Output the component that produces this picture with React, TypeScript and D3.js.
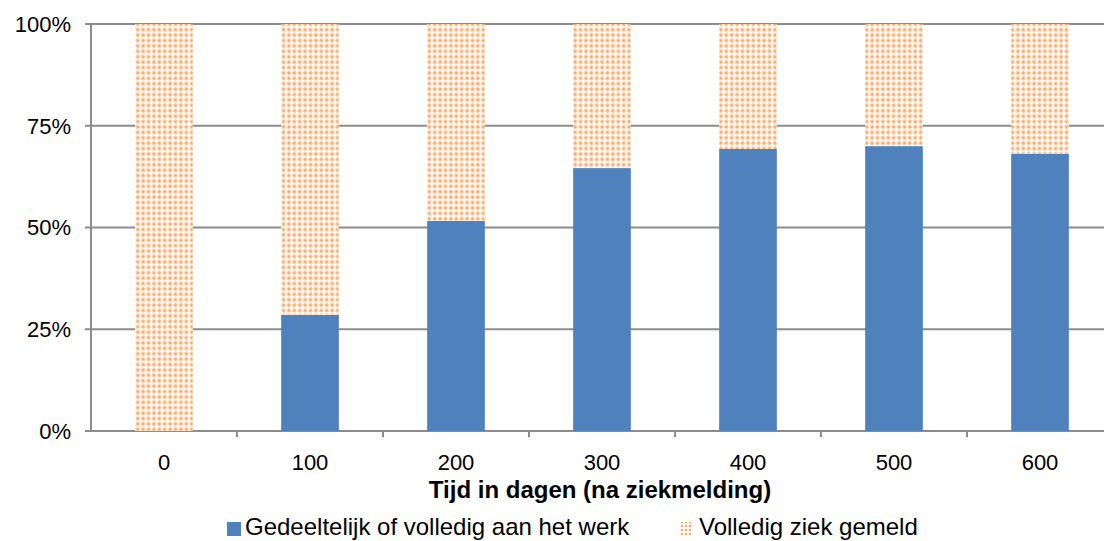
import React from "react";
import * as d3 from "d3";

// Days since reporting sick
const days = ["0", "100", "200", "300", "400", "500", "600"];
// Share (%) partly or fully back at work
const atWork = [0, 28.5, 51.6, 64.6, 69.3, 70.0, 68.1];
// Share (%) still fully on sick leave
const fullySick = atWork.map((v) => 100 - v);
const yTicks = [0, 25, 50, 75, 100];
const seriesNames = ["Gedeeltelijk of volledig aan het werk", "Volledig ziek gemeld"];
const xTitle = "Tijd in dagen (na ziekmelding)";

const W = 1104;
const H = 541;
const left = 91;
const top = 24;
const bottom = 431;
const step = 146;

const FONT = "'Liberation Sans', Arial, sans-serif";
const BLUE = "#4F81BD";
const GRID = "#8c8c8c";

export default function App() {
  const x = d3
    .scaleBand<string>()
    .domain(days)
    .range([left, left + step * days.length])
    .paddingInner(0.605)
    .paddingOuter(0.3025);
  const y = d3.scaleLinear().domain([0, 100]).range([bottom, top]);
  const bw = x.bandwidth();

  return (
    <div style={{ position: "fixed", left: 0, top: 0 }}>
      <svg width={W} height={H} style={{ display: "block", background: "#fff" }}>
        <defs>
          <pattern id="dots" width={5.4} height={5.4} patternUnits="userSpaceOnUse">
            <rect width={5.4} height={5.4} fill="#fff" />
            <circle cx={2.7} cy={2.7} r={2.4} fill="#fcdcc0" />
            <circle cx={2.7} cy={2.7} r={1.4} fill="#f7a868" />
          </pattern>
          <pattern id="dotsLegend" width={4} height={4} patternUnits="userSpaceOnUse">
            <rect width={4} height={4} fill="#fff" />
            <circle cx={2} cy={2} r={1.3} fill="#f6aa6c" />
          </pattern>
        </defs>

        {/* horizontal gridlines */}
        {yTicks.map((t) => (
          <line key={t} x1={left - 6} x2={W} y1={y(t)} y2={y(t)} stroke={GRID} strokeWidth={2} />
        ))}
        {/* y axis */}
        <line x1={left} x2={left} y1={top} y2={bottom} stroke={GRID} strokeWidth={2} />
        {/* category tick marks */}
        {days.map((d, i) => (
          <line
            key={d}
            x1={left + step * (i + 1)}
            x2={left + step * (i + 1)}
            y1={bottom}
            y2={bottom + 6}
            stroke={GRID}
            strokeWidth={2}
          />
        ))}

        {/* stacked bars */}
        {days.map((d, i) => (
          <g key={d}>
            <rect x={x(d)} y={y(atWork[i])} width={bw} height={y(0) - y(atWork[i])} fill={BLUE} />
            <rect
              x={x(d)}
              y={y(100)}
              width={bw}
              height={y(atWork[i]) - y(atWork[i] + fullySick[i])}
              fill="url(#dots)"
            />
          </g>
        ))}

        {/* y tick labels */}
        {yTicks.map((t) => (
          <text
            key={t}
            x={71}
            y={y(t)}
            dy="0.36em"
            textAnchor="end"
            fontFamily={FONT}
            fontSize={22}
            fill="#000"
          >
            {t}%
          </text>
        ))}
        {/* x tick labels */}
        {days.map((d) => (
          <text
            key={d}
            x={(x(d) as number) + bw / 2}
            y={470}
            textAnchor="middle"
            fontFamily={FONT}
            fontSize={22}
            fill="#000"
          >
            {d}
          </text>
        ))}
        <text x={600} y={498} textAnchor="middle" fontFamily={FONT} fontSize={24} fontWeight="bold">
          {xTitle}
        </text>

        {/* legend */}
        <rect x={227} y={522} width={14} height={14} fill={BLUE} />
        <text x={245} y={535} fontFamily={FONT} fontSize={24}>
          {seriesNames[0]}
        </text>
        <rect x={679} y={522} width={14} height={14} fill="url(#dotsLegend)" />
        <text x={699} y={535} fontFamily={FONT} fontSize={24}>
          {seriesNames[1]}
        </text>
      </svg>
    </div>
  );
}
